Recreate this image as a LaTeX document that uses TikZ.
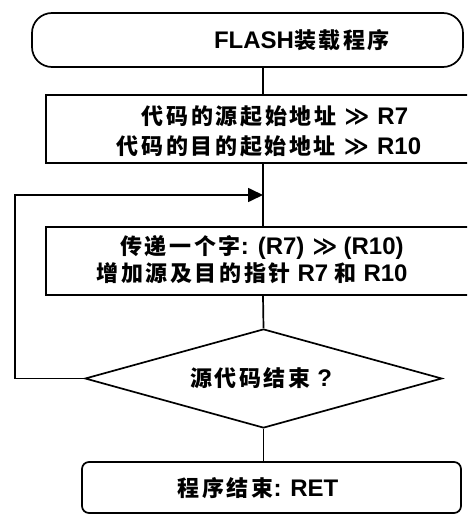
\documentclass[tikz,border=0pt]{standalone}
\usepackage{fontspec}
\newfontfamily\cjk{Noto Sans CJK SC}[LetterSpace=12]
\newfontfamily\lat{Liberation Sans}
\newfontfamily\sym{DejaVu Sans}
\newcommand{\la}[1]{{\lat\bfseries\fontsize{24}{30}\selectfont #1}}
\newcommand{\mygg}{{\sym\fontsize{24}{30}\selectfont ≫}}
\usetikzlibrary{shapes.geometric,arrows.meta}
\begin{document}
\begin{tikzpicture}[x=1pt,y=-1pt,
  line width=1.7pt,
  every node/.style={font=\cjk\bfseries\fontsize{22}{30}\selectfont, inner sep=0pt},
  term/.style={draw, rounded corners=20pt, minimum width=431pt, minimum height=54pt},
  proc/.style={draw, minimum width=434pt, minimum height=68pt},
  endbox/.style={draw, rounded corners=7pt, minimum width=379pt, minimum height=51pt},
  dec/.style={draw, diamond, minimum width=357pt, minimum height=99pt},
  txt/.style={align=center}]
\useasboundingbox (0,0) rectangle (467,516);
\clip (0,0) rectangle (467,516);
\node[term] (start) at (247.5,40) {};
\node[txt] (starttxt) at (302,40) {\la{FLASH}装载程序};
\node[proc] (box1) at (263,129) {};
\node[txt] (b1a) at (275,116) {代码的源起始地址\hspace{8pt}\mygg\hspace{8pt}\la{R7}};
\node[txt] (b1b) at (269,146) {代码的目的起始地址\hspace{8pt}\mygg\hspace{8pt}\la{R10}};
\coordinate (j) at (263,195);
\coordinate (lx) at (15,0);
\node[proc] (box2) at (263,261) {};
\node[txt] (b2a) at (262,247) {传递一个字\la{: (R7)}\hspace{8pt}\mygg\hspace{6pt}\la{(R10)}};
\node[txt] (b2b) at (252,273) {增加源及目的指针\la{ R7 }和\la{ R10}};
\node[dec] (dec) at (263.5,378.5) {};
\node[txt] (dectxt) at (261,378) {源代码结束\la{ ?}};
\node[endbox] (end) at (271.5,487.5) {};
\node[txt] (endtxt) at (258,488) {程序结束\la{: RET}};
\draw (box1.north |- start.south) -- (box1.north);
\draw (box1.south) -- (box2.north);
\draw (dec.north) -- (box2.south);
\draw (dec.south) -- (dec.south |- end.north);
\draw[-{Triangle[length=15pt,width=14pt]}] (dec.west) -- (dec.west -| lx) |- (j);
\end{tikzpicture}
\end{document}
